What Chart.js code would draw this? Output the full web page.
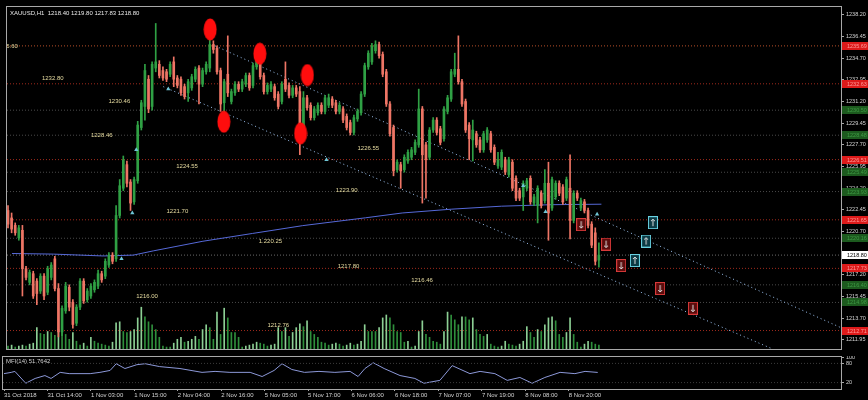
<!DOCTYPE html>
<html>
<head>
<meta charset="utf-8">
<script src="https://cdn.jsdelivr.net/npm/chart.js@4.4.0/dist/chart.umd.min.js"></script>
<style>
  html, body { margin: 0; padding: 0; background: #000; }
  #wrap { position: relative; width: 868px; height: 400px; overflow: hidden; background: #000; }
  #main { position: absolute; left: 0; top: 0; }
  #mfi { position: absolute; left: 0; top: 356px; }
</style>
</head>
<body>
<div id="wrap">
  <canvas id="main" width="868" height="356"></canvas>
  <canvas id="mfi" width="868" height="44"></canvas>
</div>
<script>
// XAUUSD H1, one entry per bar
const opens = [1222.4,1221.8,1221.2,1220.2,1220.8,1217.7,1216.6,1217.3,1216.7,1215.9,
  1217.1,1215.8,1217.0,1218.5,1216.1,1212.6,1214.3,1216.2,1215.0,1213.3,
  1214.6,1216.7,1215.2,1215.5,1216.0,1216.3,1217.3,1217.1,1218.0,1218.8,
  1218.5,1222.0,1224.2,1226.1,1224.7,1223.1,1224.8,1229.1,1230.8,1233.0,
  1230.8,1233.9,1234.2,1233.7,1233.6,1233.4,1234.4,1233.1,1233.0,1232.4,
  1231.9,1232.3,1233.0,1233.9,1232.6,1233.6,1233.9,1235.8,1235.5,1233.7,
  1231.1,1233.4,1231.2,1231.9,1232.6,1232.2,1232.6,1233.3,1232.5,1234.0,
  1234.5,1233.3,1232.0,1232.2,1232.4,1231.8,1231.2,1233.0,1232.5,1231.7,
  1232.3,1232.0,1228.7,1231.5,1230.9,1229.9,1230.3,1230.9,1230.4,1230.9,
  1231.4,1231.1,1230.4,1230.6,1230.0,1229.5,1228.7,1229.8,1230.3,1231.8,
  1234.0,1234.4,1235.3,1235.8,1235.0,1233.6,1231.0,1229.1,1225.7,1226.1,
  1225.7,1226.4,1226.7,1227.1,1227.7,1230.6,1227.7,1226.7,1228.9,1229.7,
  1229.0,1228.2,1230.4,1231.4,1233.4,1233.8,1232.8,1231.2,1229.3,1228.1,
  1228.6,1228.1,1227.3,1228.1,1228.6,1227.5,1226.0,1225.9,1226.5,1225.3,
  1226.3,1225.0,1224.0,1223.5,1224.2,1225.0,1223.0,1222.8,1223.8,1223.2,
  1224.6,1222.6,1223.5,1224.6,1224.3,1223.4,1224.2,1221.6,1223.8,1222.6,
  1223.1,1222.4,1221.3,1220.6,1218.4];
const highs = [1222.8,1222.2,1221.4,1221.2,1221.2,1217.9,1217.6,1217.5,1216.9,1217.3,
  1217.3,1217.9,1218.2,1218.7,1216.5,1214.7,1216.6,1216.4,1215.2,1214.8,
  1216.9,1216.9,1216.1,1216.5,1216.8,1217.6,1217.5,1218.5,1219.0,1219.0,
  1222.8,1224.9,1226.8,1226.4,1224.9,1225.1,1229.6,1231.3,1234.2,1233.3,
  1234.4,1237.5,1234.5,1234.0,1233.8,1234.4,1234.8,1233.3,1233.2,1232.6,
  1233.0,1233.4,1234.0,1234.1,1233.9,1234.4,1236.2,1236.1,1235.7,1233.9,
  1233.0,1236.5,1232.2,1232.8,1232.8,1233.0,1233.5,1233.5,1234.3,1235.3,
  1234.8,1233.5,1232.7,1232.8,1232.6,1232.0,1232.8,1234.4,1232.7,1232.5,
  1232.5,1232.4,1232.0,1231.7,1231.1,1230.8,1231.1,1231.1,1231.7,1231.8,
  1231.6,1231.3,1231.1,1230.8,1230.2,1229.7,1230.1,1230.6,1232.0,1234.3,
  1235.3,1235.9,1236.1,1236.0,1235.2,1233.8,1231.2,1229.3,1226.5,1226.3,
  1226.9,1227.3,1227.5,1228.1,1232.2,1230.8,1227.9,1229.1,1229.9,1229.9,
  1229.2,1230.8,1231.7,1233.8,1235.1,1236.5,1233.0,1231.4,1229.5,1229.7,
  1228.8,1228.3,1228.8,1229.1,1228.8,1227.7,1227.1,1227.3,1226.7,1226.7,
  1226.5,1225.2,1224.2,1224.8,1225.0,1225.2,1223.7,1224.4,1224.0,1225.7,
  1226.3,1225.1,1224.8,1224.8,1224.5,1225.1,1226.9,1224.0,1224.0,1223.4,
  1223.3,1222.6,1221.5,1221.0,1219.8];
const lows = [1221.0,1220.6,1220.4,1220.0,1215.5,1216.8,1216.4,1215.3,1214.8,1215.7,
  1215.2,1215.6,1216.8,1215.9,1212.2,1212.3,1214.1,1214.3,1212.9,1213.1,
  1214.4,1214.9,1215.0,1215.3,1215.8,1216.1,1216.6,1216.9,1217.8,1218.1,
  1218.3,1221.8,1224.0,1224.3,1222.4,1222.9,1224.6,1228.9,1229.7,1230.3,
  1230.5,1233.6,1233.1,1232.9,1232.8,1233.2,1232.4,1232.3,1231.7,1231.4,
  1231.2,1232.1,1232.8,1231.0,1232.4,1233.4,1233.6,1235.1,1233.4,1230.4,
  1230.3,1231.6,1231.0,1231.7,1232.0,1232.0,1232.4,1232.1,1232.3,1233.8,
  1233.0,1231.8,1231.8,1232.0,1231.3,1230.6,1231.0,1232.0,1231.5,1231.5,
  1231.6,1226.9,1228.5,1230.5,1229.7,1229.7,1230.1,1230.2,1230.2,1230.7,
  1230.7,1230.2,1230.2,1229.5,1228.9,1228.5,1228.5,1229.6,1230.1,1231.6,
  1233.8,1234.2,1235.1,1234.7,1233.2,1230.8,1228.4,1225.2,1225.5,1224.2,
  1225.5,1226.2,1226.5,1226.9,1227.5,1223.0,1223.4,1226.5,1228.7,1228.5,
  1227.7,1228.0,1230.2,1231.2,1233.2,1232.6,1230.8,1228.7,1226.5,1226.4,
  1227.5,1227.1,1227.1,1227.9,1227.1,1226.1,1225.8,1225.7,1225.3,1225.1,
  1224.0,1223.2,1223.2,1222.4,1224.0,1222.9,1222.8,1221.4,1222.6,1223.0,
  1220.0,1222.4,1223.3,1223.6,1222.9,1223.2,1220.1,1221.4,1223.2,1222.4,
  1222.2,1221.0,1219.4,1218.0,1217.83];
const closes = [1221.3,1220.9,1220.6,1221.0,1217.7,1217.0,1217.4,1215.5,1215.7,1217.1,
  1215.5,1217.7,1218.0,1216.1,1212.6,1214.5,1216.3,1214.6,1213.2,1214.6,
  1216.7,1215.1,1215.9,1216.3,1216.6,1217.3,1216.8,1218.3,1218.8,1218.3,
  1222.0,1224.4,1226.5,1224.6,1223.0,1224.9,1229.3,1231.1,1233.7,1230.6,
  1234.2,1234.4,1233.3,1233.1,1233.0,1234.2,1233.0,1232.5,1231.9,1231.6,
  1232.8,1233.2,1233.8,1232.6,1233.7,1234.2,1235.8,1235.4,1233.6,1231.0,
  1232.8,1231.9,1232.0,1232.6,1232.2,1232.8,1233.3,1232.3,1234.1,1234.9,
  1233.2,1232.0,1232.5,1232.6,1231.5,1230.8,1232.6,1232.2,1231.7,1232.3,
  1231.8,1228.6,1231.5,1230.7,1229.9,1230.6,1230.9,1230.4,1231.5,1231.5,
  1230.9,1230.4,1230.9,1229.7,1229.1,1228.7,1229.9,1230.4,1231.8,1234.1,
  1235.1,1235.7,1235.8,1234.9,1233.4,1231.0,1228.6,1225.6,1226.3,1225.6,
  1226.7,1227.1,1227.3,1227.9,1230.6,1226.9,1226.5,1228.9,1229.7,1228.7,
  1227.9,1230.6,1231.5,1233.6,1233.8,1232.8,1231.0,1228.9,1228.2,1228.9,
  1227.7,1227.3,1228.6,1228.9,1227.3,1226.3,1226.5,1227.1,1225.5,1226.5,
  1224.2,1223.4,1223.4,1224.6,1224.8,1223.1,1223.5,1224.2,1222.8,1224.6,
  1222.2,1224.9,1224.6,1223.8,1223.1,1224.9,1221.6,1223.8,1223.4,1223.2,
  1222.4,1221.2,1219.6,1218.3,1218.8];
const volumes = [300,400,200,300,400,300,500,600,2200,1600,
  1500,1800,1700,1400,2000,1800,1500,1000,1700,800,
  400,600,300,1200,800,600,500,400,300,700,
  2700,2800,1800,1700,1800,2000,3200,4300,3300,2800,
  2500,2000,1200,300,200,200,600,1000,1200,700,
  800,1000,1300,1000,2000,2500,2200,1000,3800,1500,
  4200,3200,1700,1700,1200,200,300,400,500,700,
  600,500,300,400,500,2200,1800,2200,1300,1700,
  2200,2600,2300,2900,1800,1500,1200,700,600,400,
  500,600,500,300,400,600,400,500,800,2500,
  1800,1800,1800,2200,3200,3500,3200,2500,1800,1700,
  700,800,200,300,1800,2900,1500,1200,800,700,
  500,1800,3800,3500,3000,2500,3300,3300,3000,3200,
  2000,1500,1300,1500,500,300,200,300,800,500,
  400,300,500,800,2300,1700,1200,2000,1800,2500,
  3200,3300,2900,1500,1200,1700,3200,1500,700,200,
  500,800,700,500,400];

// moving average, read at a few bars
const maBars   = [1.1, 12.7, 26.5, 34.8, 40.3, 54.1, 67.9, 81.8, 99.2, 109.4, 123.2, 137, 150.8, 164.7];
const maValues = [1218.93, 1218.88, 1218.73, 1218.80, 1219.14, 1219.92, 1220.55, 1221.18, 1221.81, 1222.20, 1222.51, 1222.75, 1222.87, 1222.91];

// MFI(14)
const mfiBars   = [0, 2, 3, 6, 8.6, 11.3, 13, 15.5, 18, 23.8, 26.5, 29.3, 31, 33.4, 36.7, 39, 43, 48.6, 54.7, 58.3, 62.4, 68, 71.3, 74.6, 76.8, 79.5, 83, 87, 91.4, 95.6, 97.8, 99.7, 102, 105, 109.4, 113.5, 116, 120.4, 123.8, 128.7, 131.5, 135.6, 139, 142.5, 145.9, 149.4, 153.6, 157.7, 160.5, 164];
const mfiValues = [48, 52, 55, 18, 33, 42, 33, 52, 48, 48, 52, 58, 79, 64, 76, 79, 70, 64, 52, 55, 52, 52, 39, 58, 79, 61, 52, 55, 52, 55, 39, 64, 82, 64, 42, 33, 18, 27, 73, 48, 55, 48, 27, 36, 18, 36, 52, 48, 55, 51.76];
const mfiLevels = [80, 20];
const mfiTicks = [20, 80, 100];

// channel lines
const upperChannel = [{ x: 57.5, y: 1235.69 }, { x: 231.2, y: 1212.94 }];
const lowerChannel = [{ x: 43.1, y: 1232.40 }, { x: 211.6, y: 1211.30 }];

// horizontal levels
const levelPrices = [1235.69, 1232.63, 1230.50, 1228.48, 1226.51, 1225.49, 1223.93, 1221.65, 1220.16, 1218.80, 1217.73, 1216.40, 1214.98, 1212.71];
const levelKinds  = ['res', 'res', 'sup', 'sup', 'res', 'sup', 'sup', 'res', 'sup', 'bid', 'res', 'sup', 'sup', 'res'];

// text objects on the chart
const labelTexts  = ['1235.60', '1232.80', '1230.46', '1228.46', '1226.55', '1224.55', '1223.90', '1221.70', '1.220.25', '1217.80', '1216.46', '1216.00', '1212.76'];
const labelBars   = [-3.3, 9.4, 27.9, 23, 97, 46.7, 91, 44, 69.6, 91.5, 111.9, 35.6, 72];
const labelPrices = [1235.69, 1233.1, 1231.2, 1228.5, 1227.4, 1226.0, 1224.0, 1222.35, 1219.9, 1217.9, 1216.8, 1215.5, 1213.1];

// markers
const circleBars   = [56.1, 59.9, 69.9, 83.1, 81.2];
const circlePrices = [1237.02, 1229.57, 1235.06, 1233.34, 1228.63];
const arrowBars    = [31.5, 34.5, 35.6, 44.5, 88.4, 143, 149.2, 163.5];
const arrowPrices  = [1218.5, 1222.2, 1227.3, 1232.2, 1226.5, 1224.4, 1222.3, 1222.1];
const sellBars     = [159.1, 166.0, 170.2, 181.0, 190.1];
const sellPrices   = [1221.26, 1219.69, 1217.96, 1216.10, 1214.51];
const buyBars      = [179.0, 177.1, 174.0];
const buyPrices    = [1221.42, 1219.93, 1218.36];

// axes
const priceTicks = [1238.20, 1236.45, 1234.70, 1232.95, 1231.20, 1229.45, 1227.70, 1225.95, 1224.20, 1222.45, 1220.70, 1218.95, 1217.20, 1215.45, 1213.70, 1211.95];
const timeTickBars = [0, 12, 24, 36, 48, 60, 72, 84, 96, 108, 120, 132, 144, 156];
const timeLabels = ['31 Oct 2018', '31 Oct 14:00', '1 Nov 03:00', '1 Nov 15:00', '2 Nov 04:00', '2 Nov 16:00', '5 Nov 05:00', '5 Nov 17:00', '6 Nov 06:00', '6 Nov 18:00', '7 Nov 07:00', '7 Nov 19:00', '8 Nov 08:00', '8 Nov 20:00'];
const title = 'XAUUSD,H1  1218.40 1219.80 1217.83 1218.80';
const mfiTitle = 'MFI(14) 51.7642';

const X_MIN = -0.28, X_MAX = 231.2;
const Y_MIN = 1211.22, Y_MAX = 1238.83;

const GREEN = '#2fa044';
const RED = '#ee7565';
const FONT = 'Liberation Sans';
Chart.defaults.font.family = FONT;

const pts = (xs, ys) => xs.map((x, i) => ({ x: x, y: ys[i] }));

function ellipseImage() {
  const c = document.createElement('canvas');
  c.width = 14; c.height = 23;
  const g = c.getContext('2d');
  g.fillStyle = '#ff0d0d';
  g.beginPath();
  g.ellipse(7, 11.5, 6.5, 11, 0, 0, Math.PI * 2);
  g.fill();
  return c;
}

function boxImage(fill, stroke, up) {
  const c = document.createElement('canvas');
  c.width = 10; c.height = 13;
  const g = c.getContext('2d');
  g.fillStyle = fill;
  g.fillRect(0, 0, 10, 13);
  g.strokeStyle = stroke;
  g.strokeRect(0.5, 0.5, 9, 12);
  g.strokeStyle = '#e0e0e0';
  g.beginPath();
  g.moveTo(5, 3); g.lineTo(5, 10);
  if (up) { g.moveTo(3, 5); g.lineTo(5, 3); g.lineTo(7, 5); }
  else { g.moveTo(3, 8); g.lineTo(5, 10); g.lineTo(7, 8); }
  g.stroke();
  return c;
}

const candleColors = opens.map((o, i) => (closes[i] >= o ? GREEN : RED));
const volColors = volumes.map((v, i) => (i > 0 && v > volumes[i - 1] ? '#8ccf94' : '#2f8f3c'));

const levelSets = levelPrices.map((p, k) => ({
  type: 'line',
  data: [{ x: X_MIN, y: p }, { x: X_MAX, y: p }],
  borderColor: levelKinds[k] === 'res' ? (k === 0 ? '#b8502a' : '#a02a1c') : (levelKinds[k] === 'bid' ? '#6a6a6a' : '#4a4a4a'),
  borderWidth: 1,
  borderDash: [1, 2],
  pointRadius: 0,
  order: 10
}));

const mainDecor = {
  id: 'mainDecor',
  beforeDraw(chart) {
    const ctx = chart.ctx;
    ctx.save();
    ctx.fillStyle = '#000';
    ctx.fillRect(0, 0, chart.width, chart.height);
    ctx.restore();
  },
  afterDatasetsDraw(chart) {
    const { ctx, chartArea: a, scales: { x, y } } = chart;
    ctx.save();
    ctx.beginPath();
    ctx.rect(a.left, a.top, a.right - a.left, a.bottom - a.top);
    ctx.clip();
    ctx.font = '6px "' + FONT + '"';
    ctx.fillStyle = '#e6dba0';
    ctx.textBaseline = 'middle';
    labelTexts.forEach((t, k) => {
      ctx.fillText(t, x.getPixelForValue(labelBars[k]), y.getPixelForValue(labelPrices[k]));
    });
    ctx.fillStyle = '#e8e8e8';
    ctx.fillText(title, a.left + 3, a.top + 6);
    ctx.restore();
  },
  afterDraw(chart) {
    const { ctx, chartArea: a, scales: { y } } = chart;
    ctx.save();
    ctx.strokeStyle = '#a8a8a8';
    ctx.lineWidth = 1;
    ctx.strokeRect(a.left - 0.5, a.top - 0.5, a.right - a.left + 1, a.bottom - a.top + 1);
    ctx.font = '5.5px "' + FONT + '"';
    ctx.textBaseline = 'middle';
    levelPrices.forEach((p, k) => {
      const py = Math.round(y.getPixelForValue(p));
      let bg = '#1c5a1e', fg = '#3f9a45';
      if (levelKinds[k] === 'res') { bg = '#dd1a1a'; fg = '#ff9a9a'; }
      if (levelKinds[k] === 'bid') { bg = '#ffffff'; fg = '#000000'; }
      ctx.fillStyle = bg;
      ctx.fillRect(a.right + 1, py - 4, chart.width - a.right - 1, 8);
      ctx.fillStyle = fg;
      ctx.fillText(p.toFixed(2), a.right + 6, py);
    });
    ctx.restore();
  }
};

new Chart(document.getElementById('main'), {
  type: 'bar',
  data: {
    datasets: [
      ...levelSets,
      {
        type: 'bar', yAxisID: 'yv',
        data: pts(volumes.map((v, i) => i), volumes),
        backgroundColor: volColors, barThickness: 1, grouped: false, order: 9
      },
      {
        type: 'line', data: pts(maBars, maValues),
        borderColor: '#5669d8', borderWidth: 1, pointRadius: 0, order: 6
      },
      {
        type: 'line', data: upperChannel,
        borderColor: '#9cc2f0', borderWidth: 1, borderDash: [1, 3], pointRadius: 0, order: 7
      },
      {
        type: 'line', data: lowerChannel,
        borderColor: '#9cc2f0', borderWidth: 1, borderDash: [1, 3], pointRadius: 0, order: 7
      },
      {
        type: 'bar',
        data: highs.map((h, i) => ({ x: i, y: [lows[i], h] })),
        backgroundColor: candleColors, barThickness: 1, grouped: false, order: 5
      },
      {
        type: 'bar',
        data: opens.map((o, i) => ({ x: i, y: [o, closes[i]] })),
        backgroundColor: candleColors, barThickness: 2, minBarLength: 1, grouped: false, order: 4
      },
      {
        type: 'line', showLine: false, data: pts(arrowBars, arrowPrices),
        pointStyle: 'triangle', pointRadius: 2.5, pointBackgroundColor: '#6fc6d6', pointBorderWidth: 0, order: 3
      },
      {
        type: 'line', showLine: false, data: pts(sellBars, sellPrices),
        pointStyle: boxImage('#5a0c0c', '#d83a3a', false), pointRadius: 5, order: 2
      },
      {
        type: 'line', showLine: false, data: pts(buyBars, buyPrices),
        pointStyle: boxImage('#0b3a44', '#6ad2e2', true), pointRadius: 5, order: 2
      },
      {
        type: 'line', showLine: false, data: pts(circleBars, circlePrices),
        pointStyle: ellipseImage(), pointRadius: 6, order: 1
      }
    ]
  },
  options: {
    responsive: false,
    animation: false,
    events: [],
    layout: { padding: { left: 3, top: 3, right: 0, bottom: 1 } },
    plugins: { legend: { display: false }, tooltip: { enabled: false } },
    scales: {
      x: { type: 'linear', min: X_MIN, max: X_MAX, offset: false, display: false },
      y: {
        position: 'right', min: Y_MIN, max: Y_MAX,
        afterBuildTicks: s => { s.ticks = priceTicks.map(v => ({ value: v })); },
        afterFit: s => { s.width = 27; s.paddingTop = 0; s.paddingBottom = 0; },
        ticks: { color: '#d4d4d4', font: { size: 5.5 }, padding: 2, callback: v => v.toFixed(2) },
        grid: { drawOnChartArea: false, color: '#a8a8a8', tickLength: 3 },
        border: { color: '#a8a8a8' }
      },
      yv: { display: false, min: 0, max: 35200 }
    }
  },
  plugins: [mainDecor]
});

const mfiDecor = {
  id: 'mfiDecor',
  beforeDraw(chart) {
    const ctx = chart.ctx;
    ctx.save();
    ctx.fillStyle = '#000';
    ctx.fillRect(0, 0, chart.width, chart.height);
    ctx.restore();
  },
  afterDraw(chart) {
    const { ctx, chartArea: a } = chart;
    ctx.save();
    ctx.strokeStyle = '#a8a8a8';
    ctx.strokeRect(a.left - 0.5, a.top - 0.5, a.right - a.left + 1, a.bottom - a.top + 1);
    ctx.font = '6px "' + FONT + '"';
    ctx.fillStyle = '#d0d0d0';
    ctx.textBaseline = 'middle';
    ctx.fillText(mfiTitle, a.left + 3, a.top + 4);
    ctx.restore();
  }
};

new Chart(document.getElementById('mfi'), {
  type: 'line',
  data: {
    datasets: [
      ...mfiLevels.map(v => ({
        data: [{ x: X_MIN, y: v }, { x: X_MAX, y: v }],
        borderColor: '#3c3c3c', borderWidth: 1, borderDash: [1, 2], pointRadius: 0
      })),
      {
        data: pts(mfiBars, mfiValues),
        borderColor: '#8c98d8', borderWidth: 1, pointRadius: 0
      }
    ]
  },
  options: {
    responsive: false,
    animation: false,
    events: [],
    layout: { padding: { left: 3, top: 1, right: 0, bottom: 0 } },
    plugins: { legend: { display: false }, tooltip: { enabled: false } },
    scales: {
      x: {
        type: 'linear', min: X_MIN, max: X_MAX,
        afterBuildTicks: s => { s.ticks = timeTickBars.map(v => ({ value: v })); },
        afterFit: s => { s.height = 11; s.paddingLeft = 0; s.paddingRight = 0; },
        ticks: {
          align: 'start', color: '#d4d4d4', font: { size: 6 }, padding: 1,
          maxRotation: 0, autoSkip: false, callback: (v, i) => timeLabels[i]
        },
        grid: { drawOnChartArea: false, color: '#a8a8a8', tickLength: 2 },
        border: { color: '#a8a8a8' }
      },
      y: {
        position: 'right', min: 0, max: 100,
        afterBuildTicks: s => { s.ticks = mfiTicks.map(v => ({ value: v })); },
        afterFit: s => { s.width = 27; s.paddingTop = 0; s.paddingBottom = 0; },
        ticks: { color: '#d4d4d4', font: { size: 5.5 }, padding: 2 },
        grid: { drawOnChartArea: false, color: '#a8a8a8', tickLength: 3 },
        border: { color: '#a8a8a8' }
      }
    }
  },
  plugins: [mfiDecor]
});
</script>
</body>
</html>
